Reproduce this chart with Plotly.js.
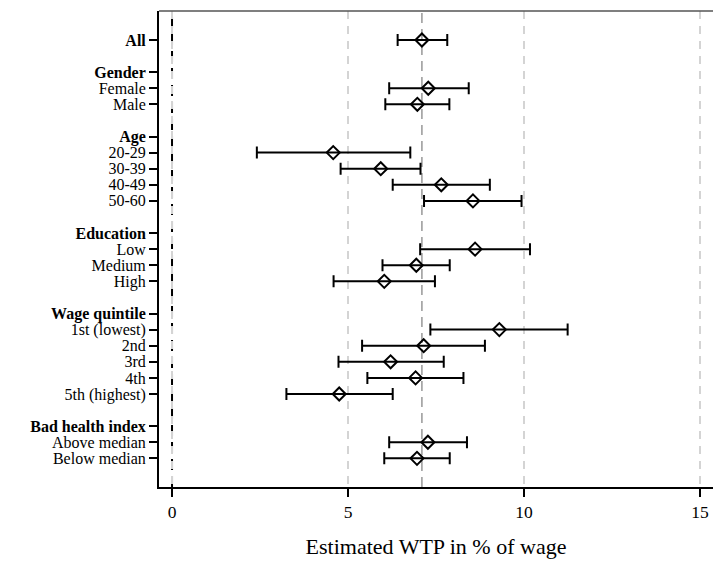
<!DOCTYPE html>
<html>
<head>
<meta charset="utf-8">
<script src="https://cdn.plot.ly/plotly-3.0.1.min.js"></script>
<style>html,body{margin:0;padding:0;background:#fff;}#chart{width:713px;height:565px;}</style>
</head>
<body>
<div id="chart"></div>
<script>
// Groups (header, then sub-rows). A header with no sub-rows carries its own estimate.
var groupHeaders = ["All", "Gender", "Age", "Education", "Wage quintile", "Bad health index"];
var groupLabels = [
  [],
  ["Female", "Male"],
  ["20-29", "30-39", "40-49", "50-60"],
  ["Low", "Medium", "High"],
  ["1st (lowest)", "2nd", "3rd", "4th", "5th (highest)"],
  ["Above median", "Below median"]
];
var estimates = [
  [7.10],
  [7.28, 6.97],
  [4.58, 5.93, 7.65, 8.55],
  [8.61, 6.94, 6.03],
  [9.30, 7.15, 6.21, 6.92, 4.75],
  [7.27, 6.96]
];
var lowerCI = [
  [6.41],
  [6.17, 6.06],
  [2.41, 4.79, 6.27, 7.16],
  [7.05, 5.98, 4.59],
  [7.34, 5.40, 4.73, 5.55, 3.25],
  [6.17, 6.03]
];
var upperCI = [
  [7.82],
  [8.43, 7.88],
  [6.77, 7.06, 9.03, 9.93],
  [10.17, 7.89, 7.47],
  [11.24, 8.89, 7.72, 8.28, 6.27],
  [8.38, 7.89]
];
var xTicks = [0, 5, 10, 15];
var xTitle = "Estimated WTP in % of wage";

// Build row positions
var tickvals = [], ticktext = [];
var px = [], py = [], ep = [], em = [];
var row = 0;
for (var g = 0; g < groupHeaders.length; g++) {
  tickvals.push(row); ticktext.push("<b>" + groupHeaders[g] + "</b>");
  if (groupLabels[g].length === 0) {
    px.push(estimates[g][0]); py.push(row);
    ep.push(upperCI[g][0] - estimates[g][0]); em.push(estimates[g][0] - lowerCI[g][0]);
    row++;
  } else {
    row++;
    for (var i = 0; i < groupLabels[g].length; i++) {
      tickvals.push(row); ticktext.push(groupLabels[g][i]);
      px.push(estimates[g][i]); py.push(row);
      ep.push(upperCI[g][i] - estimates[g][i]); em.push(estimates[g][i] - lowerCI[g][i]);
      row++;
    }
  }
  row++;
}
var lastRow = row - 2;
var overall = estimates[0][0];

var trace = {
  type: "scatter", mode: "markers",
  x: px, y: py,
  marker: {symbol: "diamond-open", size: 10, color: "#000", line: {width: 2, color: "#000"}},
  error_x: {type: "data", symmetric: false, array: ep, arrayminus: em, color: "#000", thickness: 2, width: 6},
  hoverinfo: "x+y", showlegend: false
};

var font = "'Liberation Serif', 'DejaVu Serif', serif";
var layout = {
  width: 713, height: 565,
  margin: {l: 159, r: 0, t: 11, b: 78},
  paper_bgcolor: "#fff", plot_bgcolor: "#fff",
  font: {family: font, color: "#000", size: 16},
  showlegend: false,
  xaxis: {
    range: [-0.37, 15.37],
    tickvals: xTicks, ticktext: xTicks.map(String),
    ticks: "outside", ticklen: 8, tickwidth: 1.5, tickcolor: "#000",
    tickfont: {size: 17.5, family: font},
    showline: true, linecolor: "#000", linewidth: 2,
    showgrid: true, gridcolor: "#d4d4d4", gridwidth: 1.2, griddash: "8px,7px",
    zeroline: false,
    title: {text: xTitle, font: {size: 22, family: font}, standoff: 18}
  },
  yaxis: {
    range: [lastRow + 1.78, -1.8],
    tickvals: tickvals, ticktext: ticktext,
    ticks: "outside", ticklen: 8, tickwidth: 2, tickcolor: "#000",
    tickfont: {size: 16, family: font},
    showline: true, linecolor: "#000", linewidth: 2,
    showgrid: false, zeroline: false
  },
  shapes: [
    {type: "line", xref: "x", yref: "paper", x0: 0, x1: 0, y0: 0, y1: 1,
     line: {color: "#000", width: 2, dash: "11px,6px"}, layer: "below"},
    {type: "line", xref: "x", yref: "paper", x0: overall, x1: overall, y0: 0, y1: 1,
     line: {color: "#888", width: 1.3, dash: "10px,6px"}, layer: "below"},
    {type: "line", xref: "paper", yref: "paper", x0: 0, x1: 1, y0: 1, y1: 1,
     line: {color: "#555", width: 1.5}}
  ]
};

Plotly.newPlot("chart", [trace], layout, {displayModeBar: false, staticPlot: true});
</script>
</body>
</html>
